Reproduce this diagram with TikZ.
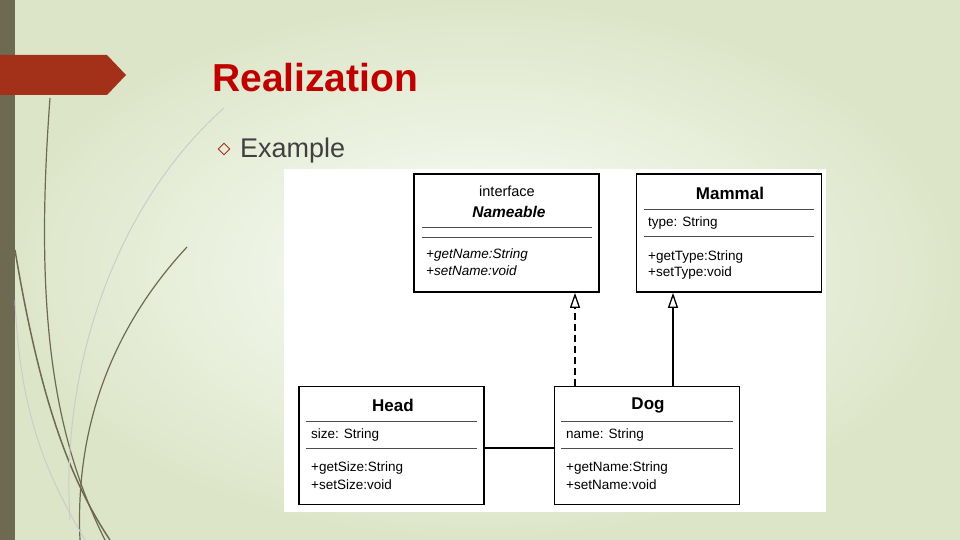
\documentclass[tikz,border=0pt]{standalone}
\usepackage{fontspec}
\setmainfont{Liberation Sans}
\usetikzlibrary{positioning,arrows.meta}
\definecolor{barcol}{HTML}{6E6A52}
\definecolor{tabred}{HTML}{A3311A}
\definecolor{titlered}{HTML}{C00000}
\tikzstyle{cls} = [rectangle, draw, line width=1.6pt, minimum width=185pt, minimum height=118pt, inner sep=0pt]
\tikzstyle{sep} = [draw=black!70, line width=0.7pt]
\tikzstyle{txt} = [anchor=west, inner sep=0pt, font=\fontsize{13.5}{15}\selectfont]
\tikzstyle{ttl} = [inner sep=0pt, font=\fontsize{17}{19}\selectfont\bfseries]

\begin{document}
\begin{tikzpicture}[x=1pt, y=-1pt]
   % Background
   \useasboundingbox (0,0) rectangle (960,540);
   \shade[inner color=white!85!green!10, outer color={rgb,255:red,221;green,229;blue,200}] (0,0) rectangle (960,540);
   \fill[barcol] (0,0) rectangle (15,540);
   \fill[tabred] (0,55) -- (107,55) -- (126,75) -- (107,95) -- (0,95) -- cycle;
   \draw[barcol, line width=1.2pt] (50,98) .. controls (35,300) and (50,430) .. (105,540);
   \draw[barcol, line width=1.5pt] (15,250) .. controls (40,400) and (70,480) .. (110,540);
   \draw[barcol, line width=1.2pt] (187,247) .. controls (110,330) and (75,430) .. (80,540);
   \draw[black!20, line width=1pt] (224,108) .. controls (120,200) and (60,360) .. (70,520);
   \draw[black!20, line width=1pt] (15,300) .. controls (20,420) and (50,480) .. (85,540);
   % Title
   \node[anchor=base west, inner sep=0pt, text=titlered, font=\fontsize{39}{42}\selectfont\bfseries] (title) at (212,92) {Realization};
   \node[draw=tabred, rotate=45, minimum size=8pt, inner sep=0pt, line width=0.9pt] (bullet) at (224,149) {};
   \node[anchor=base west, inner sep=0pt, text=black!75, font=\fontsize{27}{30}\selectfont] (ex) at (240,158) {Example};
   % Diagram panel
   \fill[white] (284,169) rectangle (826,512);
   % Place nodes
   \node[cls] (name) at (506.5,233) {};
   \node[cls] (mammal) at (729,233) {};
   \node[cls] (head) at (391.5,445.5) {};
   \node[cls] (dog) at (647,445.5) {};
   % Nameable
   \node[inner sep=0pt, font=\fontsize{14.5}{16}\selectfont] at (507,191) {interface};
   \node[ttl, font=\fontsize{15.5}{17}\selectfont\bfseries\itshape] at (509,212) {Nameable};
   \draw[sep] (422,227) -- (592,227);
   \draw[sep] (422,237) -- (592,237);
   \node[txt, font=\fontsize{13.5}{15}\selectfont\itshape] at (426,255) {+getName:String};
   \node[txt, font=\fontsize{13.5}{15}\selectfont\itshape] at (426,271) {+setName:void};
   % Mammal
   \node[ttl] at (730,193) {Mammal};
   \draw[sep] (644,209) -- (814,209);
   \node[txt] at (648,223) {type: String};
   \draw[sep] (644,236) -- (814,236);
   \node[txt] at (648,257) {+getType:String};
   \node[txt] at (648,273) {+setType:void};
   % Head
   \node[ttl] at (393,405) {Head};
   \draw[sep] (306,421) -- (477,421);
   \node[txt] at (311,435) {size: String};
   \draw[sep] (306,448) -- (477,448);
   \node[txt] at (311,468) {+getSize:String};
   \node[txt] at (311,485) {+setSize:void};
   % Dog
   \node[ttl] at (648,405) {Dog};
   \draw[sep] (561,421) -- (733,421);
   \node[txt] at (566,435) {name: String};
   \draw[sep] (561,448) -- (733,448);
   \node[txt] at (566,468) {+getName:String};
   \node[txt] at (566,485) {+setName:void};
   % Connectors
   \draw[-{Triangle[open, length=15pt, width=10pt]}, dash pattern=on 7pt off 4pt, line width=1.3pt] (dog.north -| 575,0) -- (name.south -| 575,0);
   \draw[-{Triangle[open, length=15pt, width=10pt]}, line width=1.3pt] (dog.north -| 673,0) -- (mammal.south -| 673,0);
   \draw[line width=1.3pt] (head.east |- 0,448) -- (dog.west |- 0,448);
\end{tikzpicture}
\end{document}
